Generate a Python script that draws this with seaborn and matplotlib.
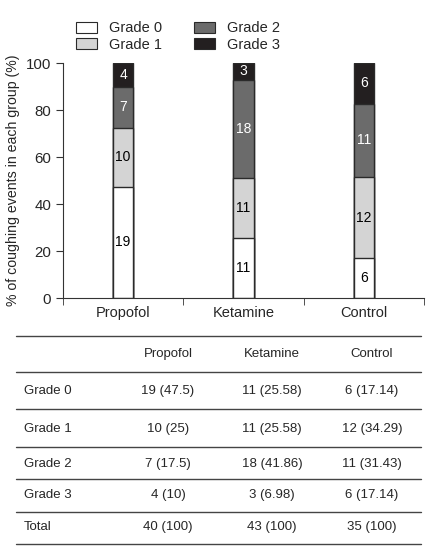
import matplotlib
matplotlib.use("Agg")
import matplotlib.pyplot as plt
import seaborn as sns
import numpy as np
from matplotlib.patches import Patch
from matplotlib.lines import Line2D

groups = ["Propofol", "Ketamine", "Control"]
grades = ["Grade 0", "Grade 1", "Grade 2", "Grade 3"]
counts = [
    [19, 11, 6],
    [10, 11, 12],
    [7, 18, 11],
    [4, 3, 6],
]
percents = [
    [47.5, 25.58, 17.14],
    [25, 25.58, 34.29],
    [17.5, 41.86, 31.43],
    [10, 6.98, 17.14],
]
totals = [40, 43, 35]

colors = ["#ffffff", "#d4d4d4", "#6b6b6b", "#231f20"]
label_colors = ["black", "black", "white", "white"]
edge = "#2a2a2a"

sns.set_style("ticks")
plt.rcParams["font.family"] = ["Liberation Sans", "DejaVu Sans"]

fig = plt.figure(figsize=(4.28, 5.55), dpi=100)
ax = fig.add_axes([0.147, 0.463, 0.844, 0.423])

cum = np.cumsum(np.array(percents), axis=0)
# draw from the top layer down so each lower segment covers the one above
for i in range(len(grades) - 1, -1, -1):
    sns.barplot(x=groups, y=cum[i], color=colors[i], width=0.167,
                edgecolor=edge, linewidth=1.0, saturation=1, ax=ax)

for i in range(len(grades)):
    for j in range(len(groups)):
        lo = cum[i - 1][j] if i > 0 else 0
        mid = (lo + cum[i][j]) / 2
        ax.text(j, mid, str(counts[i][j]), ha="center", va="center",
                fontsize=10, color=label_colors[i])

ax.set_xlim(-0.5, 2.5)
ax.set_ylim(0, 100)
ax.set_yticks([0, 20, 40, 60, 80, 100])
ax.set_xticks([-0.5, 0.5, 1.5, 2.5], minor=True)
ax.tick_params(axis="x", which="major", length=0, labelsize=10.5, pad=6)
ax.tick_params(axis="x", which="minor", length=5, direction="out", color="#333333")
ax.tick_params(axis="y", length=5, direction="out", labelsize=10.8, color="#333333")
ax.set_ylabel("% of coughing events in each group (%)", fontsize=10.2, labelpad=4)
ax.set_xlabel("")
sns.despine(ax=ax)
for s in ["left", "bottom"]:
    ax.spines[s].set_color("#333333")

handles = [Patch(facecolor=colors[i], edgecolor=edge, linewidth=0.8, label=grades[i])
           for i in range(len(grades))]
fig.legend(handles=handles, ncol=2, frameon=False, loc="upper left",
           bbox_to_anchor=(0.165, 0.972), fontsize=10.5, handlelength=1.4,
           handleheight=0.75, handletextpad=0.85, columnspacing=2.2,
           labelspacing=0.15, borderaxespad=0)

# table below the chart
H = 555.0
def fy(py):
    return 1 - py / H

line_ys = [336, 372, 409, 447, 479, 512, 544]
for py in line_ys:
    fig.add_artist(Line2D([16 / 428, 421 / 428], [fy(py), fy(py)],
                          color="#444444", linewidth=1.0))

col_x = [168 / 428, 272 / 428, 372 / 428]
row_x = 24 / 428
fs = 9.5
for j, g in enumerate(groups):
    fig.text(col_x[j], fy(354), g, ha="center", va="center", fontsize=fs)

row_ys = [391, 429, 464, 495]
for i, gname in enumerate(grades):
    fig.text(row_x, fy(row_ys[i]), gname, ha="left", va="center", fontsize=fs)
    for j in range(len(groups)):
        fig.text(col_x[j], fy(row_ys[i]), f"{counts[i][j]} ({percents[i][j]:g})",
                 ha="center", va="center", fontsize=fs)

fig.text(row_x, fy(527), "Total", ha="left", va="center", fontsize=fs)
for j in range(len(groups)):
    fig.text(col_x[j], fy(527), f"{totals[j]} (100)", ha="center", va="center", fontsize=fs)

fig.savefig("out.png", dpi=100)
